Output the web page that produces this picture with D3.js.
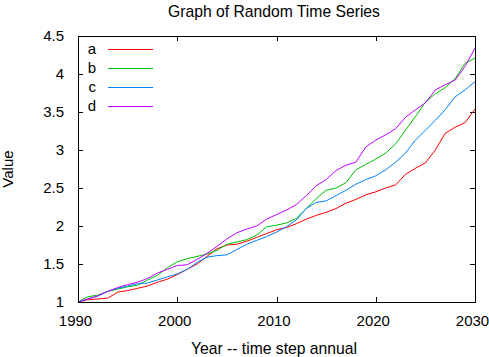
<!DOCTYPE html>
<html>
<head>
<meta charset="utf-8">
<script src="https://cdn.jsdelivr.net/npm/d3@7"></script>
<style>
  html, body { margin: 0; padding: 0; background: #fff; }
  svg { display: block; }
  text { font-family: "Liberation Sans", Arial, sans-serif; fill: #000; }
</style>
</head>
<body>
<svg id="chart" width="489" height="357"></svg>
<script>
const years = d3.range(1990, 2031);
const seriesNames = ["a", "b", "c", "d"];
const seriesColors = ["#ff0000", "#00c000", "#0080ff", "#c000ff"];
const seriesA = [1.00,1.03,1.04,1.05,1.13,1.15,1.18,1.21,1.26,1.30,1.36,1.43,1.50,1.60,1.70,1.75,1.76,1.80,1.85,1.90,1.95,1.98,2.03,2.09,2.14,2.18,2.23,2.30,2.35,2.41,2.45,2.50,2.54,2.68,2.76,2.83,3.00,3.22,3.30,3.36,3.54];
const seriesB = [1.00,1.07,1.09,1.14,1.17,1.20,1.22,1.29,1.35,1.45,1.53,1.57,1.60,1.63,1.68,1.76,1.79,1.82,1.88,1.99,2.01,2.04,2.10,2.23,2.36,2.47,2.50,2.57,2.74,2.81,2.88,2.96,3.08,3.26,3.44,3.63,3.74,3.82,3.94,4.14,4.21];
const seriesC = [1.00,1.04,1.08,1.14,1.18,1.21,1.24,1.25,1.29,1.33,1.37,1.43,1.52,1.59,1.61,1.62,1.69,1.76,1.81,1.86,1.92,1.99,2.08,2.23,2.31,2.33,2.40,2.47,2.55,2.61,2.66,2.74,2.84,2.96,3.13,3.26,3.39,3.53,3.70,3.79,3.90];
const seriesD = [1.00,1.04,1.08,1.14,1.19,1.23,1.26,1.31,1.38,1.43,1.48,1.49,1.56,1.64,1.73,1.83,1.91,1.96,2.00,2.09,2.15,2.21,2.28,2.40,2.53,2.61,2.73,2.80,2.84,3.04,3.13,3.20,3.28,3.43,3.53,3.62,3.79,3.86,3.92,4.10,4.34];
const xTicks = [1990, 2000, 2010, 2020, 2030];
const yTicks = [1, 1.5, 2, 2.5, 3, 3.5, 4, 4.5];
const titleText = "Graph of Random Time Series";
const xLabel = "Year -- time step annual";
const yLabel = "Value";

const allSeries = [seriesA, seriesB, seriesC, seriesD];

const svg = d3.select("#chart");
const L = 78, R = 475, T = 36, B = 302;
const fs = 15, fsTitle = 15.7;

const x = d3.scaleLinear().domain([1990, 2030]).range([L, R]);
const y = d3.scaleLinear().domain([1, 4.5]).range([B, T]);

// Ticks (inside, mirrored)
const tickLen = 5;
const xAxisB = d3.axisBottom(x).tickValues(xTicks).tickSizeInner(-tickLen).tickSizeOuter(0).tickFormat(d3.format("d"));
const xAxisT = d3.axisTop(x).tickValues(xTicks).tickSizeInner(-tickLen).tickSizeOuter(0).tickFormat("");
const yAxisL = d3.axisLeft(y).tickValues(yTicks).tickSizeInner(-tickLen).tickSizeOuter(0).tickFormat(d3.format(""));
const yAxisR = d3.axisRight(y).tickValues(yTicks).tickSizeInner(-tickLen).tickSizeOuter(0).tickFormat("");

function styleAxis(g) {
  g.select(".domain").remove();
  g.selectAll("line").attr("stroke", "#000").attr("shape-rendering", "crispEdges");
  g.selectAll("text").style("font-size", fs + "px").attr("font-family", null);
}
svg.append("g").attr("transform", `translate(0,${B})`).call(xAxisB).call(styleAxis)
  .selectAll("text").attr("dy", null).attr("y", 24).attr("x", -3);
svg.append("g").attr("transform", `translate(0,${T})`).call(xAxisT).call(styleAxis);
svg.append("g").attr("transform", `translate(${L},0)`).call(yAxisL).call(styleAxis)
  .selectAll("text").attr("x", -14);
svg.append("g").attr("transform", `translate(${R},0)`).call(yAxisR).call(styleAxis);

// Lines
const line = d3.line().x((d, i) => x(years[i])).y(d => y(d));
allSeries.forEach((s, k) => {
  svg.append("path").datum(s)
    .attr("d", line)
    .attr("fill", "none")
    .attr("stroke", seriesColors[k])
    .attr("stroke-width", 1);
});

// Border
svg.append("rect").attr("x", L + 0.5).attr("y", T + 0.5)
  .attr("width", R - L).attr("height", B - T)
  .attr("fill", "none").attr("stroke", "#000").attr("stroke-width", 1)
  .attr("shape-rendering", "crispEdges");

// Legend
const legY0 = 49, legStep = 19;
seriesNames.forEach((nm, k) => {
  const yy = legY0 + k * legStep;
  svg.append("text").attr("x", 96).attr("y", yy).attr("dy", "0.35em")
    .attr("text-anchor", "end").style("font-size", fs + "px").text(nm);
  svg.append("line").attr("x1", 108).attr("x2", 153).attr("y1", yy + 0.5).attr("y2", yy + 0.5)
    .attr("stroke", seriesColors[k]).attr("stroke-width", 1).attr("shape-rendering", "crispEdges");
});

// Titles
svg.append("text").attr("x", 274).attr("y", 17).attr("text-anchor", "middle")
  .style("font-size", fsTitle + "px").text(titleText);
svg.append("text").attr("x", 274).attr("y", 354).attr("text-anchor", "middle")
  .style("font-size", fsTitle + "px").text(xLabel);
svg.append("text").attr("transform", `translate(13,169) rotate(-90)`).attr("text-anchor", "middle")
  .style("font-size", fs + "px").text(yLabel);
</script>
</body>
</html>
